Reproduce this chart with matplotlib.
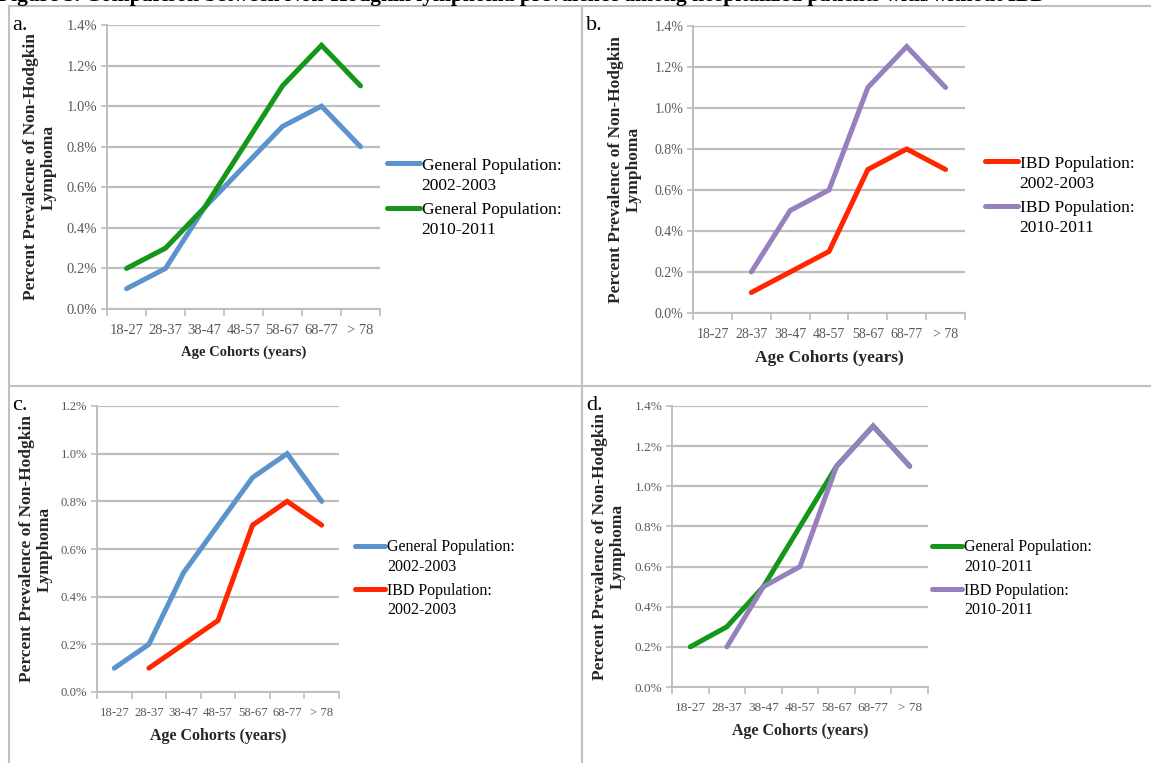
import numpy as np
import matplotlib
matplotlib.use('Agg')
import matplotlib.pyplot as plt
from matplotlib.lines import Line2D
from matplotlib.ticker import FixedLocator, FuncFormatter
from matplotlib.legend_handler import HandlerLine2D

plt.rcParams['font.family'] = ['Liberation Serif', 'DejaVu Serif']

# ---------------- data ----------------
age_cohorts = ['18-27', '28-37', '38-47', '48-57', '58-67', '68-77', '> 78']
gen_2002 = [0.1, 0.2, 0.5, 0.7, 0.9, 1.0, 0.8]
gen_2010 = [0.2, 0.3, 0.5, 0.8, 1.1, 1.3, 1.1]
ibd_2002 = [np.nan, 0.1, 0.2, 0.3, 0.7, 0.8, 0.7]
ibd_2010 = [np.nan, 0.2, 0.5, 0.6, 1.1, 1.3, 1.1]

lbl_gen_2002 = 'General Population:\n2002-2003'
lbl_gen_2010 = 'General Population:\n2010-2011'
lbl_ibd_2002 = 'IBD Population:\n2002-2003'
lbl_ibd_2010 = 'IBD Population:\n2010-2011'

c_blue = '#5B93CD'
c_green = '#13961A'
c_red = '#FF2600'
c_purple = '#9680BE'

W, H = 1151, 763
fig = plt.figure(figsize=(W / 100, H / 100), dpi=100)


def px_axes(l, r, t, b):
    return fig.add_axes([l / W, 1 - b / H, (r - l) / W, (b - t) / H])


class TopLine(HandlerLine2D):
    # legend line sits next to the first line of a two-line label
    def create_artists(self, legend, orig_handle, xdescent, ydescent, width,
                       height, fontsize, trans):
        arts = super().create_artists(legend, orig_handle, xdescent, ydescent,
                                      width, height, fontsize, trans)
        for a in arts:
            a.set_ydata(np.asarray(a.get_ydata()) + 0.72 * fontsize)
        return arts


# panel: letter, axes box (px), ymax, series, ylabel, ylabel x px, xlabel size, tick size, legend pos, legend size
panels = [
    ('a.', (107, 380, 25, 309), 1.4,
     [(gen_2002, c_blue, lbl_gen_2002), (gen_2010, c_green, lbl_gen_2010)],
     'Percent Prevalecne of Non-Hodgkin\nLymphoma', 40, 10.5, 10.5, (387, 158), 12.5),
    ('b.', (693, 965, 26, 313), 1.4,
     [(ibd_2002, c_red, lbl_ibd_2002), (ibd_2010, c_purple, lbl_ibd_2010)],
     'Percent Prevalence of Non-Hodgkin\nLymphoma', 625, 12.5, 10, (985, 156), 12.5),
    ('c.', (97, 339, 406, 692), 1.2,
     [(gen_2002, c_blue, lbl_gen_2002), (ibd_2002, c_red, lbl_ibd_2002)],
     'Percent Prevalence of Non-Hodgkin\nLymphoma', 36, 11.5, 9.2, (355, 539), 11.5),
    ('d.', (672, 928, 406, 687), 1.4,
     [(gen_2010, c_green, lbl_gen_2010), (ibd_2010, c_purple, lbl_ibd_2010)],
     'Percent Prevalence of Non-Hodgkin\nLymphoma', 609, 11.5, 9.5, (932, 539), 11.5),
]

letter_pos = {'a.': (12, 30), 'b.': (586, 30), 'c.': (12, 410), 'd.': (586, 410)}

x = np.arange(len(age_cohorts))
grid_c = '#BEBEBE'

for letter, box, ymax, series, ylab, ylab_x, xl_size, tk_size, leg_pos, leg_size in panels:
    l, r, t, b = box
    ax = px_axes(l, r, t, b)
    for vals, col, lab in series:
        ax.plot(x, vals, color=col, lw=3.6, label=lab, solid_capstyle='round',
                solid_joinstyle='miter')
    ax.set_xlim(-0.5, len(age_cohorts) - 0.5)
    ax.set_ylim(0, ymax)
    ax.set_yticks(np.arange(0, ymax + 0.001, 0.2))
    ax.yaxis.set_major_formatter(FuncFormatter(lambda v, p: '%.1f%%' % v))
    ax.yaxis.grid(True, color=grid_c, lw=1.6)
    ax.set_axisbelow(True)
    ax.set_xticks(x)
    ax.set_xticklabels(age_cohorts)
    ax.xaxis.set_minor_locator(FixedLocator(np.arange(-0.5, len(age_cohorts), 1.0)))
    ax.tick_params(axis='x', which='major', length=0, pad=11, labelsize=tk_size,
                   labelcolor='#595959')
    ax.tick_params(axis='x', which='minor', length=5, width=1.2, color=grid_c,
                   direction='out')
    ax.tick_params(axis='y', length=4, width=1.2, color=grid_c, pad=3,
                   labelsize=tk_size, labelcolor='#595959')
    for s in ['top', 'right']:
        ax.spines[s].set_visible(False)
    for s in ['left', 'bottom']:
        ax.spines[s].set_color(grid_c)
        ax.spines[s].set_linewidth(1.4)
    ax.set_xlabel('Age Cohorts (years)', fontsize=xl_size, fontweight='bold',
                  color='#262626', labelpad=6)
    fig.text(ylab_x / W, 1 - ((t + b) / 2) / H, ylab, rotation=90, ha='center',
             va='center', multialignment='center', fontsize=12.5,
             fontweight='bold', color='#262626', linespacing=1.1)
    lx, ly = leg_pos
    leg = ax.legend(loc='upper left', bbox_to_anchor=(lx / W, 1 - ly / H),
                    bbox_transform=fig.transFigure, frameon=False, borderpad=0,
                    borderaxespad=0, handlelength=1.9, handletextpad=0.1,
                    labelspacing=0.5, fontsize=leg_size,
                    handler_map={Line2D: TopLine()})
    for txt in leg.get_texts():
        txt.set_linespacing(1.3)
    px, py = letter_pos[letter]
    fig.text(px / W, 1 - py / H, letter, fontsize=16, ha='left', va='baseline')

# frame lines of the figure table
frame_c = '#C0C0C0'
for (x0, y0, x1, y1) in [(9, 6, W, 6), (9, 386, W, 386), (9, 6, 9, H), (582, 6, 582, H)]:
    fig.add_artist(Line2D([x0 / W, x1 / W], [1 - y0 / H, 1 - y1 / H],
                          transform=fig.transFigure, color=frame_c, lw=1.5))

# title, cut off at top of the image (as in the source scan)
fig.text(-2 / W, 1 - 0.5 / H,
         'Figure 3. Comparison between Non-Hodgkin lymphoma prevalence among hospitalized patients with/without IBD',
         fontsize=15.5, fontweight='bold', ha='left', va='baseline')

fig.savefig('out.png', dpi=100)
